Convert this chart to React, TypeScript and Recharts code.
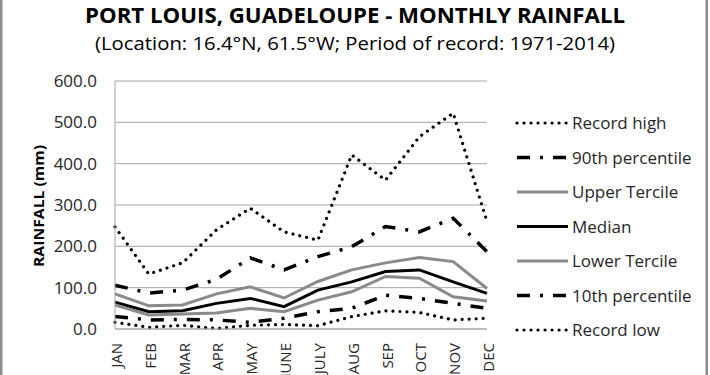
import React from "react";
import { LineChart, Line, XAxis, YAxis, CartesianGrid } from "recharts";

const months = ["JAN", "FEB", "MAR", "APR", "MAY", "JUNE", "JULY", "AUG", "SEP", "OCT", "NOV", "DEC"];
const recordHigh = [247, 133, 160, 240, 292, 235, 215, 421, 360, 465, 522, 260];
const p90 = [106, 87, 94, 120, 172, 143, 175, 199, 248, 235, 268, 187];
const upperTercile = [85, 56, 58, 85, 102, 75, 115, 143, 160, 173, 163, 98];
const median = [65, 42, 44, 62, 74, 54, 94, 114, 139, 143, 114, 86];
const lowerTercile = [58, 34, 36, 39, 50, 42, 70, 90, 127, 123, 78, 68];
const p10 = [30, 22, 23, 22, 16, 26, 42, 50, 82, 74, 62, 50];
const recordLow = [16, 4, 9, 1, 9, 11, 8, 30, 44, 40, 22, 26];
const yTicks = [0, 100, 200, 300, 400, 500, 600];

const data = months.map((m, i) => ({
  month: m,
  recordHigh: recordHigh[i],
  p90: p90[i],
  upperTercile: upperTercile[i],
  median: median[i],
  lowerTercile: lowerTercile[i],
  p10: p10[i],
  recordLow: recordLow[i],
}));

const FONT = "'Open Sans', sans-serif";
const GRAY = "#8a8a8a";

const seriesDefs = [
  { key: "recordHigh", name: "Record high", color: "#000", width: 3.2, dash: "0.01 7", cap: "round" },
  { key: "p90", name: "90th percentile", color: "#000", width: 3.5, dash: "13 10 3 10", cap: "butt" },
  { key: "upperTercile", name: "Upper Tercile", color: GRAY, width: 3, dash: undefined, cap: "butt" },
  { key: "median", name: "Median", color: "#000", width: 3, dash: undefined, cap: "butt" },
  { key: "lowerTercile", name: "Lower Tercile", color: GRAY, width: 3, dash: undefined, cap: "butt" },
  { key: "p10", name: "10th percentile", color: "#000", width: 3.5, dash: "13 10 3 10", cap: "butt" },
  { key: "recordLow", name: "Record low", color: "#000", width: 3.2, dash: "0.01 7", cap: "round" },
];

const XTick = (props: any) => {
  const { x, y, payload } = props;
  const tx = x + 7;
  const ty = y + 14;
  return (
    <text
      x={tx}
      y={ty}
      transform={`rotate(-90, ${tx}, ${ty})`}
      textAnchor="end"
      fontSize={15}
      fontFamily={FONT}
      fill="#262626"
    >
      {payload.value}
    </text>
  );
};

export default function App() {
  return (
    <div style={{ position: "absolute", left: 0, top: 0, width: 710, height: 375, background: "#fff" }}>
      <LineChart
        width={710}
        height={375}
        data={data}
        margin={{ top: 81, right: 223, bottom: 0, left: 0 }}
      >
        <CartesianGrid vertical={false} stroke="#a6a6a6" />
        <XAxis
          dataKey="month"
          interval={0}
          height={46}
          tickLine={false}
          tickSize={0}
          tickMargin={0}
          axisLine={{ stroke: "#a6a6a6" }}
          tick={<XTick />}
        />
        <YAxis
          width={115}
          domain={[0, 600]}
          ticks={yTicks}
          tickFormatter={(v: number) => v.toFixed(1)}
          tickLine={false}
          tickSize={0}
          tickMargin={18}
          axisLine={{ stroke: "#a6a6a6" }}
          tick={{ fontSize: 17, fontFamily: FONT, fill: "#262626" }}
        />
        {seriesDefs.map((s) => (
          <Line
            key={s.key}
            type="linear"
            dataKey={s.key}
            name={s.name}
            stroke={s.color}
            strokeWidth={s.width}
            strokeDasharray={s.dash}
            strokeLinecap={s.cap as any}
            dot={false}
            activeDot={false}
            isAnimationActive={false}
          />
        ))}
      </LineChart>
      <svg
        width={710}
        height={375}
        style={{ position: "absolute", left: 0, top: 0, pointerEvents: "none" }}
      >
        <rect x={1.25} y={-10} width={705.5} height={400} fill="none" stroke="#8c8c8c" strokeWidth={2.5} />
        <text
          x={355}
          y={23}
          textAnchor="middle"
          fontSize={21}
          fontWeight="bold"
          fontFamily={FONT}
          fill="#000"
          textLength={540}
          lengthAdjust="spacingAndGlyphs"
        >
          PORT LOUIS, GUADELOUPE - MONTHLY RAINFALL
        </text>
        <text
          x={355}
          y={50}
          textAnchor="middle"
          fontSize={18}
          fontFamily={FONT}
          fill="#000"
          textLength={520}
          lengthAdjust="spacingAndGlyphs"
        >
          (Location: 16.4°N, 61.5°W; Period of record: 1971-2014)
        </text>
        <text
          x={44}
          y={206}
          transform="rotate(-90, 44, 206)"
          textAnchor="middle"
          fontSize={14}
          fontWeight="bold"
          fontFamily={FONT}
          fill="#000"
          textLength={122}
          lengthAdjust="spacingAndGlyphs"
        >
          RAINFALL (mm)
        </text>
        {seriesDefs.map((s, i) => {
          const cy = 123 + i * 34.5;
          return (
            <g key={s.key}>
              <line
                x1={517}
                x2={568}
                y1={cy}
                y2={cy}
                stroke={s.color}
                strokeWidth={s.width}
                strokeDasharray={s.dash}
                strokeLinecap={s.cap as any}
              />
              <text x={572} y={cy + 6} fontSize={17} fontFamily={FONT} fill="#262626">
                {s.name}
              </text>
            </g>
          );
        })}
      </svg>
    </div>
  );
}
